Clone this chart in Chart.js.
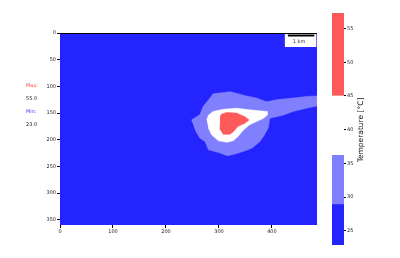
<!DOCTYPE html>
<html><head><meta charset="utf-8">
<script src="https://cdn.jsdelivr.net/npm/chart.js@4.4.0/dist/chart.umd.min.js"></script>
<style>
html,body{margin:0;padding:0;background:#fff;width:400px;height:258px;overflow:hidden;font-family:"DejaVu Sans",Arial,sans-serif}
#main{position:absolute;left:0;top:0;width:320px;height:258px}
#cbar{position:absolute;left:320px;top:0;width:80px;height:258px}
.lbl{position:absolute;font-size:5px;line-height:6px;white-space:nowrap;color:#222}
</style></head><body>
<canvas id="main" width="320" height="258"></canvas>
<canvas id="cbar" width="80" height="258"></canvas>
<div class="lbl" style="left:26px;top:82px;color:#ff4a4a">Max:</div>
<div class="lbl" style="left:26px;top:95px">55.0</div>
<div class="lbl" style="left:26px;top:108px;color:#3a3aff">Min:</div>
<div class="lbl" style="left:26px;top:121px">23.0</div>
<script>
// ---- data ----
const xRange = [0, 485];
const yRange = [0, 360];
const xTicks = [0, 100, 200, 300, 400];
const yTicks = [0, 50, 100, 150, 200, 250, 300, 350];
// contour regions (data units)
const lightBlueContour = [[248,163],[264,153],[270,138],[283,122],[289,114],[321,110],[333,113],[352,118],[371,122],[390,129],[409,125],[440,122],[465,119],[485,118],[485,137],[465,141],[440,147],[421,154],[396,160],[393,178],[384,194],[377,204],[362,216],[346,222],[327,228],[315,230],[302,225],[280,219],[274,204],[264,197],[255,182]];
const whiteContour = [[277,163],[280,154],[289,147],[308,143],[333,141],[358,144],[377,146],[391,147],[391,154],[384,160],[371,166],[358,172],[346,182],[336,194],[327,202],[315,205],[299,202],[286,191],[280,178]];
const redContour = [[302,157],[305,152],[315,149],[333,150],[349,157],[357,163],[349,169],[336,175],[327,185],[321,190],[308,190],[303,182],[302,169]];
const scaleBarKm = [430, 480];
// colorbar
const cbLevels = [22.9, 28.9, 36.2, 45, 57.3];
const cbTicks = [25, 30, 35, 40, 45, 50, 55];

const BLUE = 'rgb(36,36,255)', LBLUE = 'rgb(128,128,255)', WHITE = '#ffffff', RED = 'rgb(255,90,90)';
const cbColors = [BLUE, LBLUE, WHITE, RED];
const FONT = {family: '"DejaVu Sans", Arial, sans-serif', size: 5};

const toPts = a => a.map(p => ({x: p[0], y: p[1]}));
const poly = (arr, color, order) => ({data: toPts(arr), showLine: true, fill: 'shape', backgroundColor: color, borderColor: color, borderWidth: 0.5, pointRadius: 0, tension: 0, order});

const bgPlugin = {
  id: 'bg',
  beforeDatasetsDraw(chart) {
    const {ctx, chartArea: a} = chart;
    ctx.save(); ctx.fillStyle = BLUE; ctx.fillRect(a.left, a.top, a.right - a.left, a.bottom - a.top); ctx.restore();
  },
  afterDraw(chart) {
    const {ctx, chartArea: a, scales} = chart;
    ctx.save();
    ctx.strokeStyle = '#000'; ctx.lineWidth = 1;
    ctx.beginPath(); ctx.moveTo(a.left - 2, a.top + 0.5); ctx.lineTo(a.right, a.top + 0.5); ctx.stroke();
    const x0 = scales.x.getPixelForValue(scaleBarKm[0]), x1 = scales.x.getPixelForValue(scaleBarKm[1]);
    ctx.fillStyle = '#fff'; ctx.fillRect(x0 - 3, a.top + 1, (x1 - x0) + 5, 13);
    ctx.fillStyle = '#000'; ctx.fillRect(x0, a.top + 1.5, x1 - x0, 2);
    ctx.font = '5px "DejaVu Sans", Arial, sans-serif'; ctx.textAlign = 'center'; ctx.textBaseline = 'middle';
    ctx.fillStyle = '#333'; ctx.fillText('1 km', (x0 + x1) / 2 - 2, a.top + 9);
    ctx.restore();
  }
};

new Chart(document.getElementById('main'), {
  type: 'scatter',
  data: {datasets: [poly(redContour, RED, 1), poly(whiteContour, WHITE, 2), poly(lightBlueContour, LBLUE, 3)]},
  options: {
    responsive: false, animation: false, devicePixelRatio: 1,
    layout: {padding: {left: 40, top: 33, right: 3, bottom: 18}},
    plugins: {legend: {display: false}, tooltip: {enabled: false}},
    scales: {
      x: {type: 'linear', min: xRange[0], max: xRange[1],
        afterBuildTicks: s => { s.ticks = xTicks.map(v => ({value: v})); },
        afterFit: s => { s.height = 15; },
        grid: {drawOnChartArea: false, tickLength: 3, color: '#000'}, border: {display: false},
        ticks: {font: FONT, color: '#222', padding: 1, maxRotation: 0, autoSkip: false}},
      y: {type: 'linear', reverse: true, min: yRange[0], max: yRange[1],
        afterBuildTicks: s => { s.ticks = yTicks.map(v => ({value: v})); },
        afterFit: s => { s.width = 20; },
        grid: {drawOnChartArea: false, tickLength: 3, color: '#000'}, border: {display: false},
        ticks: {font: FONT, color: '#222', padding: 1, autoSkip: false}}
    }
  },
  plugins: [bgPlugin]
});

const cbTitle = {
  id: 'cbTitle',
  afterDraw(chart) {
    const {ctx} = chart;
    ctx.save(); ctx.translate(41, 130); ctx.rotate(-Math.PI / 2);
    ctx.font = '7.5px "DejaVu Sans", Arial, sans-serif'; ctx.textAlign = 'center'; ctx.textBaseline = 'middle';
    ctx.fillStyle = '#111'; ctx.fillText('Temperature [°C]', 0, 0); ctx.restore();
  }
};

new Chart(document.getElementById('cbar'), {
  type: 'bar',
  data: {labels: [''], datasets: cbColors.map((c, i) => ({data: [[cbLevels[i], cbLevels[i + 1]]], backgroundColor: c, borderWidth: 0, barPercentage: 1, categoryPercentage: 1, grouped: false}))},
  options: {
    responsive: false, animation: false, devicePixelRatio: 1,
    layout: {padding: {left: 12, top: 13, right: 0, bottom: 13}},
    plugins: {legend: {display: false}, tooltip: {enabled: false}},
    scales: {
      x: {display: false},
      y: {position: 'right', min: cbLevels[0], max: cbLevels[cbLevels.length - 1],
        afterBuildTicks: s => { s.ticks = cbTicks.map(v => ({value: v})); },
        afterFit: s => { s.width = 56; },
        grid: {drawOnChartArea: false, tickLength: 2, color: '#000'}, border: {display: false},
        ticks: {font: FONT, color: '#222', padding: 1, autoSkip: false}}
    }
  },
  plugins: [cbTitle]
});
</script>
</body></html>
